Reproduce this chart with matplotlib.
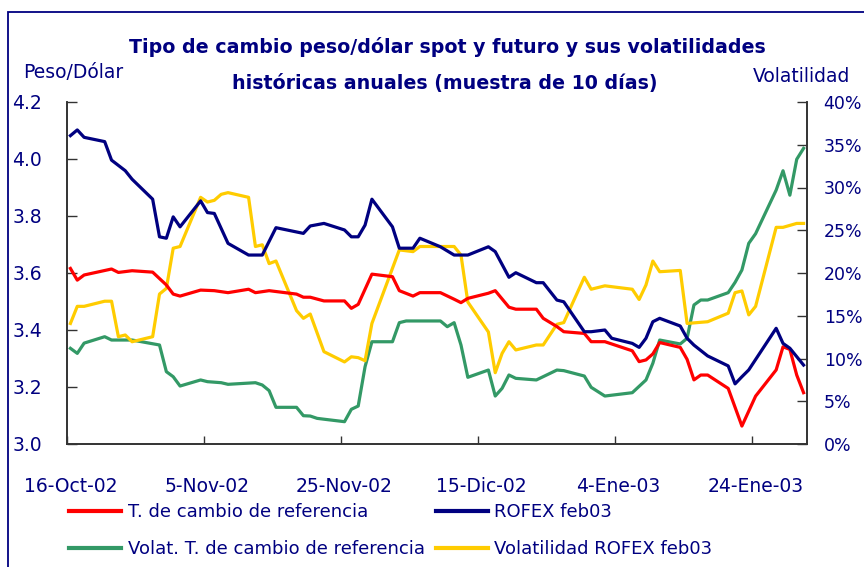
import matplotlib
matplotlib.use("Agg")
import matplotlib.pyplot as plt
import matplotlib.dates as mdates
import numpy as np
import pandas as pd
from matplotlib.patches import Rectangle
from matplotlib.ticker import FixedLocator

# ---- data (days since 16-Oct-2002) ----
fecha_base = pd.Timestamp("2002-10-16")

dias_tc = [0,1,2,6,7,9,12,14,15,16,19,21,23,26,27,29,33,34,35,37,40,41,42,44,47,48,50,51,54,56,
           57,58,61,62,64,65,68,69,71,72,75,76,78,82,83,84,85,86,89,90,91,92,93,96,98,100,103,104,105,106,107]
tc_ref = [3.616,3.575,3.593,3.614,3.602,3.608,3.603,3.558,3.526,3.519,3.540,3.538,3.531,3.543,3.531,3.538,3.526,3.515,3.515,3.502,
          3.502,3.476,3.490,3.596,3.587,3.538,3.519,3.531,3.531,3.508,3.496,3.511,3.529,3.538,3.480,3.473,3.473,3.441,3.412,3.394,
          3.388,3.359,3.359,3.327,3.289,3.295,3.316,3.356,3.339,3.297,3.225,3.242,3.242,3.195,3.063,3.168,3.260,3.341,3.332,3.242,3.180]

dias_rofex = [0,1,2,5,6,8,9,12,13,14,15,16,19,20,21,23,26,28,30,34,35,37,40,41,42,43,44,47,48,50,51,54,56,58,61,62,64,65,
              68,69,71,72,75,76,78,79,82,83,84,85,86,89,90,91,93,96,97,98,99,103,104,105,107]
rofex = [4.082,4.102,4.076,4.061,3.996,3.959,3.929,3.859,3.727,3.722,3.797,3.762,3.853,3.812,3.809,3.704,3.663,3.663,3.759,3.739,
         3.765,3.774,3.751,3.727,3.727,3.768,3.859,3.762,3.687,3.687,3.722,3.692,3.663,3.663,3.692,3.675,3.585,3.601,3.566,3.566,
         3.505,3.499,3.394,3.394,3.400,3.371,3.353,3.339,3.371,3.429,3.441,3.414,3.371,3.347,3.309,3.274,3.211,3.236,3.260,3.406,
         3.353,3.336,3.277]

dias_vol_tc = [0,1,2,5,6,9,13,14,15,16,19,20,22,23,27,28,29,30,33,34,35,36,37,40,41,42,43,44,47,48,49,54,55,56,57,58,61,62,63,64,
               65,68,71,72,75,76,78,82,84,85,86,89,90,91,92,93,96,97,98,99,100,103,104,105,106,107]
vol_tc = [11.19,10.6,11.8,12.55,12.16,12.16,11.58,8.46,7.87,6.78,7.49,7.29,7.17,6.98,7.17,6.9,6.24,4.29,4.29,3.31,
          3.27,3.0,2.9,2.61,4.06,4.44,9.04,11.96,11.96,14.19,14.39,14.39,13.72,14.19,11.58,7.8,8.65,5.61,6.51,8.07,
          7.68,7.49,8.65,8.58,7.95,6.63,5.61,6.0,7.49,9.44,12.16,11.7,12.36,16.26,16.84,16.84,17.7,18.9,20.35,23.47,
          24.6,29.7,31.96,29.1,33.3,34.58]

dias_vol_rofex = [0,1,2,5,6,7,8,9,12,13,14,15,16,19,20,21,22,23,26,27,28,29,30,33,34,35,37,40,41,42,43,44,48,50,51,56,57,58,61,62,
                  63,64,65,68,69,71,72,75,76,78,82,83,84,85,86,89,90,93,96,97,98,99,100,103,104,106,107]
vol_rofex = [14.1,16.1,16.1,16.7,16.7,12.55,12.75,11.96,12.55,17.54,18.2,22.9,23.1,28.85,28.3,28.5,29.2,29.4,28.85,23.1,
             23.3,21.1,21.4,15.6,14.7,15.2,10.8,9.6,10.2,10.1,9.74,14.1,22.7,22.5,23.1,23.1,22.1,16.6,13.1,8.34,
             10.6,11.96,11.0,11.58,11.58,14.0,14.2,19.5,18.1,18.5,18.1,16.9,18.6,21.4,20.15,20.3,14.1,14.3,15.3,17.7,
             17.9,15.1,16.1,25.34,25.34,25.8,25.8]

tick_dias = [0, 20, 40, 60, 80, 100]
tick_labels = ["16-Oct-02", "5-Nov-02", "25-Nov-02", "15-Dic-02", "4-Ene-03", "24-Ene-03"]

titulo1 = "Tipo de cambio peso/dólar spot y futuro y sus volatilidades"
titulo2 = "históricas anuales (muestra de 10 días)"

# ---- style ----
NAVY = "#000080"
C_TC = "#FF0000"
C_ROFEX = "#000080"
C_VTC = "#339966"
C_VROFEX = "#FFCC00"
plt.rcParams["font.family"] = ["DejaVu Sans"]

W, H = 864, 567
fig = plt.figure(figsize=(W / 100, H / 100), dpi=100)
fig.patch.set_facecolor("white")

# outer frame
fig.patches.append(Rectangle((8 / W, -0.05), 1.2, 1 - 12 / H + 0.05, transform=fig.transFigure,
                             fill=False, edgecolor=NAVY, linewidth=1.3, zorder=0))

ax = fig.add_axes([67 / W, 1 - 444 / H, (807 - 67) / W, (444 - 102) / H])
ax2 = ax.twinx()

def to_x(d):
    return fecha_base + pd.to_timedelta(np.asarray(d) + 0.5, unit="D")

lw = 2.3
l_tc, = ax.plot(to_x(dias_tc), tc_ref, color=C_TC, lw=lw, solid_joinstyle="round", zorder=3)
l_ro, = ax.plot(to_x(dias_rofex), rofex, color=C_ROFEX, lw=lw, solid_joinstyle="round", zorder=3)
l_vtc, = ax2.plot(to_x(dias_vol_tc), vol_tc, color=C_VTC, lw=lw, solid_joinstyle="round", zorder=2)
l_vro, = ax2.plot(to_x(dias_vol_rofex), vol_rofex, color=C_VROFEX, lw=lw, solid_joinstyle="round", zorder=2)
ax.set_zorder(ax2.get_zorder() + 1)
ax.patch.set_visible(False)

ax.set_xlim(fecha_base, fecha_base + pd.Timedelta(days=108))
ax.set_ylim(3.0, 4.2)
ax2.set_ylim(0, 40)

major = [mdates.date2num(fecha_base + pd.Timedelta(days=d + 0.5)) for d in tick_dias]
minor = [mdates.date2num(fecha_base + pd.Timedelta(days=d)) for d in tick_dias]
ax.set_xticks(major)
ax.set_xticklabels(tick_labels)
ax.xaxis.set_minor_locator(FixedLocator(minor))

yl = np.arange(3.0, 4.21, 0.2)
ax.set_yticks(yl)
ax.set_yticklabels([f"{v:.1f}" for v in yl])
yr = np.arange(0, 41, 5)
ax2.set_yticks(yr)
ax2.set_yticklabels([f"{int(v)}%" for v in yr])

SPC = "#333333"
for a in (ax, ax2):
    a.spines["top"].set_visible(False)
    for s in ("left", "right", "bottom"):
        a.spines[s].set_color(SPC)
        a.spines[s].set_linewidth(1.2)

ax.tick_params(axis="x", which="major", length=0, pad=24, labelsize=13.5, labelcolor=NAVY)
ax.tick_params(axis="x", which="minor", direction="in", length=6, color=SPC, width=1)
ax.tick_params(axis="y", direction="in", length=7, color=SPC, width=1, pad=18, labelsize=13.5, labelcolor=NAVY)
ax2.tick_params(axis="y", direction="in", length=7, color=SPC, width=1, pad=12, labelsize=12.5, labelcolor=NAVY)

# titles and axis names
fig.text(447 / W, 1 - 47 / H, titulo1, ha="center", va="center", fontsize=13.7, fontweight="bold", color=NAVY)
fig.text(445 / W, 1 - 83 / H, titulo2, ha="center", va="center", fontsize=13.7, fontweight="bold", color=NAVY)
fig.text(23 / W, 1 - 72 / H, "Peso/Dólar", ha="left", va="center", fontsize=13.5, color=NAVY)
fig.text(850 / W, 1 - 76 / H, "Volatilidad", ha="right", va="center", fontsize=13.5, color=NAVY)

# legend
handles = [l_tc, l_vtc, l_ro, l_vro]
labels = ["T. de cambio de referencia", "Volat. T. de cambio de referencia", "ROFEX feb03", "Volatilidad ROFEX feb03"]
leg = fig.legend(handles, labels, ncol=2, loc="upper left", bbox_to_anchor=(69 / W, 1 - 503 / H),
                 frameon=False, fontsize=13, handlelength=2.9, handletextpad=0.35, columnspacing=0.6,
                 labelspacing=1.05, borderpad=0, borderaxespad=0, labelcolor=NAVY)
for h in leg.legend_handles:
    h.set_linewidth(3)

fig.savefig("out.png", dpi=100)
